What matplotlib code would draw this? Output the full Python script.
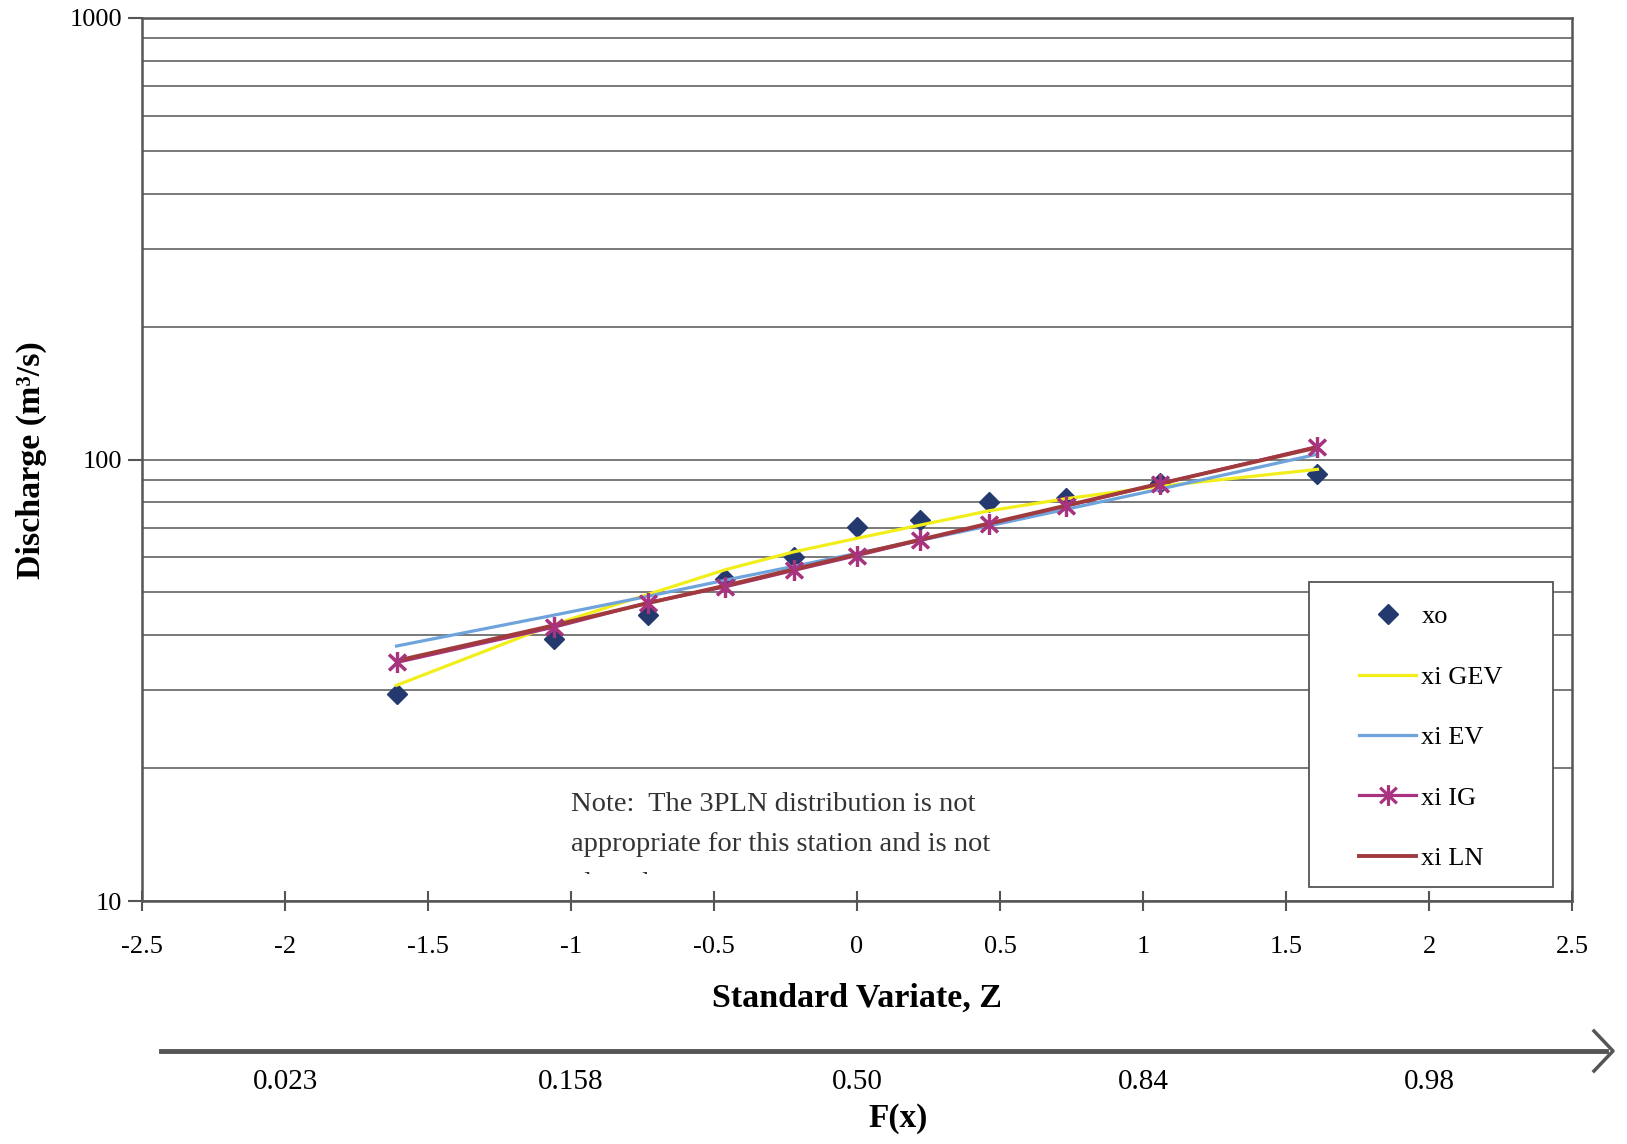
import matplotlib
matplotlib.use('Agg')
import matplotlib.pyplot as plt
from matplotlib.path import Path
from matplotlib.patches import Rectangle
from matplotlib.transforms import Bbox, blended_transform_factory
from matplotlib.ticker import LogLocator, NullFormatter

plt.rcParams['font.family'] = ['Liberation Serif', 'DejaVu Serif']

# standard variate (plotting positions) and discharges
z = [-1.61, -1.06, -0.73, -0.46, -0.22, 0.0, 0.22, 0.46, 0.73, 1.06, 1.61]
xo = [29.5, 39.3, 44.5, 53.6, 60.0, 70.3, 72.8, 80.0, 81.6, 88.5, 92.6]
xi_gev = [30.8, 42.3, 49.5, 56.3, 61.8, 66.3, 71.0, 76.5, 81.5, 87.0, 95.0]
xi_ev = [37.8, 44.4, 49.0, 53.3, 57.3, 61.3, 65.6, 70.7, 77.1, 85.7, 102.8]
xi_ig = [34.7, 41.7, 47.4, 51.5, 56.1, 60.6, 65.6, 71.4, 78.5, 88.1, 107.0]
xi_ln = [35.0, 42.1, 47.3, 51.8, 56.4, 61.0, 65.8, 71.6, 78.6, 88.2, 106.5]

x_ticks = [-2.5, -2, -1.5, -1, -0.5, 0, 0.5, 1, 1.5, 2, 2.5]
x_tick_labels = ['-2.5', '-2', '-1.5', '-1', '-0.5', '0', '0.5', '1', '1.5', '2', '2.5']
y_ticks = [10, 100, 1000]
y_tick_labels = ['10', '100', '1000']
fx_pos = [-2, -1, 0, 1, 2]
fx_labels = ['0.023', '0.158', '0.50', '0.84', '0.98']

W, H = 1627, 1144
fig = plt.figure(figsize=(W / 100, H / 100), dpi=100)
ax = fig.add_axes([142 / W, 1 - 901 / H, (1572 - 142) / W, (901 - 18) / H])

# asterisk marker: vertical bar + two diagonals
ast = Path([(0, -1), (0, 1), (-0.8, -0.75), (0.8, 0.75), (-0.8, 0.75), (0.8, -0.75)],
           [Path.MOVETO, Path.LINETO, Path.MOVETO, Path.LINETO, Path.MOVETO, Path.LINETO])

c_xo = '#243a6e'
c_gev = '#f2ee1a'
c_ev = '#6fa3dc'
c_ig = '#a8337f'
c_ln = '#a03a3c'

h_xo, = ax.plot(z, xo, ls='none', marker='D', ms=10, color=c_xo, zorder=3, label='xo')
h_gev, = ax.plot(z, xi_gev, color=c_gev, lw=2.3, zorder=4, label='xi GEV')
h_ev, = ax.plot(z, xi_ev, color=c_ev, lw=2.3, zorder=4, label='xi EV')
h_ig, = ax.plot(z, xi_ig, color=c_ig, lw=2.3, marker=ast, ms=15, mew=2.3,
                zorder=5, label='xi IG')
h_ln, = ax.plot(z, xi_ln, color=c_ln, lw=2.8, zorder=6, label='xi LN')
ax.plot(z, xi_ig, ls='none', marker=ast, ms=15, mew=2.3, color=c_ig, zorder=7)

ax.set_yscale('log')
ax.set_ylim(10, 1000)
ax.set_xlim(-2.5, 2.5)
ax.set_yticks(y_ticks)
ax.set_yticklabels(y_tick_labels)
ax.yaxis.set_minor_locator(LogLocator(base=10, subs=range(2, 10)))
ax.yaxis.set_minor_formatter(NullFormatter())
ax.set_xticks(x_ticks)
ax.set_xticklabels(x_tick_labels)
ax.tick_params(axis='x', direction='inout', length=14, width=1.5, color='#555555',
               labelsize=19, pad=18)
ax.tick_params(axis='y', which='major', direction='out', length=10, width=1.5,
               color='#555555', labelsize=19, pad=4.5)
ax.tick_params(axis='y', which='minor', length=0)
ax.grid(True, which='both', axis='y', color='#626262', lw=1.2)
ax.set_axisbelow(True)
for s in ax.spines.values():
    s.set_color('#555555')
    s.set_linewidth(1.8)

ax.set_xlabel('Standard Variate, Z', fontsize=24.5, fontweight='bold', labelpad=18)
fig.text(31 / W, 1 - 460 / H, 'Discharge (m³/s)', rotation=90, fontsize=24.5,
         fontweight='bold', ha='center', va='center')

# note, clipped like the text box in the original
note = fig.text(571 / W, 1 - 792 / H,
                'Note:  The 3PLN distribution is not\n'
                'appropriate for this station and is not\nplotted.',
                fontsize=20.5, va='top', ha='left', linespacing=1.78, color='#333333')
note.set_clip_box(Bbox.from_extents(560, H - 874, 1100, H - 770))
note.set_clip_on(True)

# legend with a square frame
fig.patches.append(Rectangle((1309 / W, 1 - 887 / H), (1553 - 1309) / W, (887 - 582) / H,
                             transform=fig.transFigure, facecolor='white',
                             edgecolor='#555555', lw=1.3, zorder=8))
leg = fig.legend(handles=[h_xo, h_gev, h_ev, h_ig, h_ln], loc='upper left',
                 bbox_to_anchor=(1359 / W, 1 - 605 / H), frameon=False, fontsize=19,
                 borderpad=0, borderaxespad=0, labelspacing=1.4, handlelength=2.16,
                 handletextpad=0.2)
leg.set_zorder(9)

# F(x) scale under the chart
arr_y = 1 - 1051 / H
fig.add_artist(plt.Line2D([161 / W, 1606 / W], [arr_y, arr_y], color='#555555', lw=3.5,
                          transform=fig.transFigure))
fig.add_artist(plt.Line2D([1594 / W, 1613 / W, 1594 / W],
                          [arr_y + 20 / H, arr_y, arr_y - 20 / H], color='#555555',
                          lw=2.5, transform=fig.transFigure))
tr = blended_transform_factory(ax.transData, fig.transFigure)
for p, lab in zip(fx_pos, fx_labels):
    fig.text(p, 1 - 1082 / H, lab, transform=tr, fontsize=21, ha='center', va='center')
fig.text(898 / W, 1 - 1119 / H, 'F(x)', fontsize=24, fontweight='bold',
         ha='center', va='center')

fig.savefig('out.png', dpi=100, facecolor='white')
